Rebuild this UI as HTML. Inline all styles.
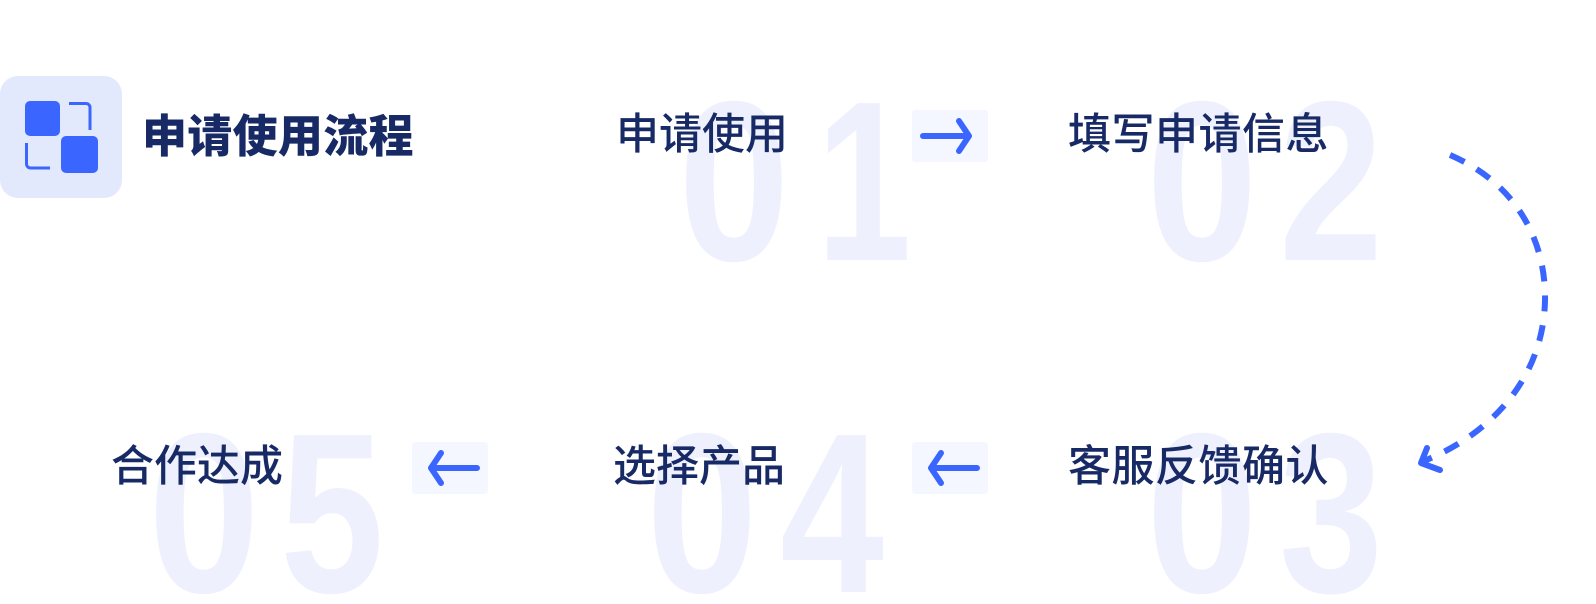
<!DOCTYPE html>
<html><head><meta charset="utf-8"><style>
html,body{margin:0;padding:0;background:#fff;width:1596px;height:604px;overflow:hidden;}
body{position:relative;font-family:"Liberation Sans","Noto Sans CJK SC",sans-serif;}
svg{position:absolute;left:0;top:0;}
.lbl{position:absolute;font-size:43px;line-height:43px;color:#172a66;font-weight:500;white-space:nowrap;font-family:"Liberation Sans","Noto Sans CJK SC",sans-serif;}
.box{position:absolute;width:76px;height:52px;background:#f4f7ff;border-radius:3px;}
</style></head><body>
<svg width="1596" height="604" viewBox="0 0 1596 604">
  <g fill="#eef1fd" font-family="Liberation Sans, sans-serif" font-weight="700" font-size="228" text-anchor="middle">
    <text transform="translate(734 260) scale(0.88 1)">0</text><text transform="translate(864 260) scale(0.75 1)">1</text>
    <text transform="translate(1202 260) scale(0.88 1)">0</text><text transform="translate(1331 260) scale(0.82 1)">2</text>
    <text transform="translate(204 592) scale(0.88 1)">0</text><text transform="translate(332 592) scale(0.82 1)">5</text>
    <text transform="translate(702 592) scale(0.88 1)">0</text><text transform="translate(832 592) scale(0.82 1)">4</text>
    <text transform="translate(1202 592) scale(0.88 1)">0</text><text transform="translate(1331 592) scale(0.82 1)">3</text>
  </g>
  <rect x="0" y="76" width="122" height="122" rx="18" fill="#e3e9fd"/>
  <rect x="25" y="101" width="35" height="35" rx="5" fill="#3a66ff"/>
  <rect x="61" y="136" width="37" height="37" rx="5" fill="#3a66ff"/>
  <path d="M69 103.5 H86 a4 4 0 0 1 4 4 V130" fill="none" stroke="#3a66ff" stroke-width="3"/>
  <path d="M26.5 143 V164 a4 4 0 0 0 4 4 H50" fill="none" stroke="#3a66ff" stroke-width="3"/>
  <path d="M1450 155 C1520 185 1546 245 1545 300 C1544 370 1500 430 1424 461" fill="none" stroke="#3a66ff" stroke-width="6" stroke-dasharray="16 14"/>
  <path d="M1427 448 L1421 463 L1440 470" fill="none" stroke="#3a66ff" stroke-width="6" stroke-linecap="round" stroke-linejoin="round"/>
</svg>
<div class="lbl" style="left:142px;top:114px;font-size:45px;line-height:45px;font-weight:900;letter-spacing:0.3px;">申请使用流程</div>

<div class="lbl" style="left:616px;top:114px;">申请使用</div>
<div class="lbl" style="left:1068px;top:114px;letter-spacing:0.5px;">填写申请信息</div>
<div class="lbl" style="left:111px;top:446px;">合作达成</div>
<div class="lbl" style="left:613px;top:446px;">选择产品</div>
<div class="lbl" style="left:1068px;top:446px;letter-spacing:0.5px;">客服反馈确认</div>

<div class="box" style="left:912px;top:110px;"></div>
<div class="box" style="left:412px;top:442px;"></div>
<div class="box" style="left:912px;top:442px;"></div>
<svg width="1596" height="604" viewBox="0 0 1596 604">
  <g fill="none" stroke="#3a66ff" stroke-width="6" stroke-linecap="round" stroke-linejoin="round">
    <path d="M923 136 H963 M959 121 L969 136 L959 151"/>
    <path d="M477 468 H437 M441 453 L431 468 L441 483"/>
    <path d="M977 468 H937 M941 453 L931 468 L941 483"/>
  </g>
</svg>
</body></html>
